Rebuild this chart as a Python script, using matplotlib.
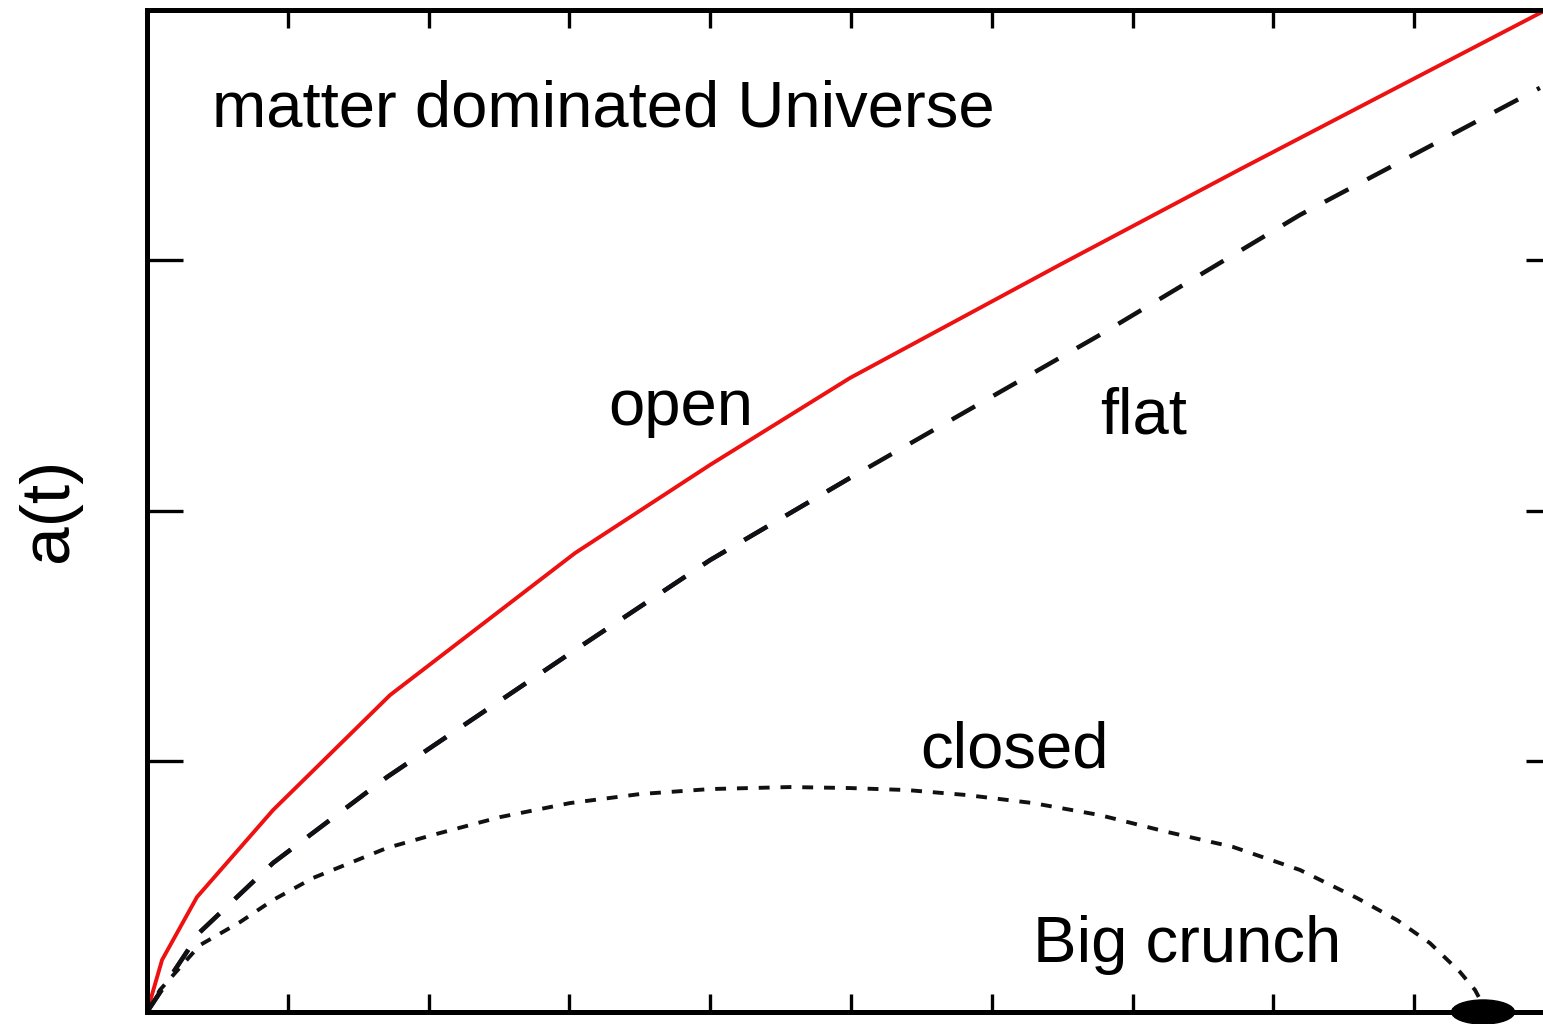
# Scale factor a(t) for a matter dominated Universe
# open / flat / closed cases

import matplotlib
matplotlib.use("Agg")
import matplotlib.pyplot as plt
from matplotlib.patches import Ellipse

plt.rcParams['font.family'] = ['Liberation Sans', 'DejaVu Sans']

# open universe (solid red)
open_t = [0.0, 0.107, 0.355, 0.895, 1.726, 3.040, 3.999, 4.993, 6.484, 7.763, 8.828, 9.915]
open_a = [0.0, 0.208, 0.459, 0.806, 1.265, 1.832, 2.184, 2.531, 2.983, 3.364, 3.676, 3.994]

# flat universe (dashed)
flat_t = [0.0, 0.376, 0.895, 1.705, 3.040, 3.999, 4.993, 6.058, 6.768, 8.189, 9.893]
flat_a = [0.0, 0.319, 0.595, 0.938, 1.445, 1.804, 2.132, 2.475, 2.703, 3.182, 3.689]

# closed universe (dotted), ends in the big crunch
closed_t = [0.0, 0.092, 0.376, 0.661, 0.895, 1.179, 1.442, 1.705, 2.031, 2.507, 3.004,
            3.501, 3.999, 4.567, 4.993, 5.398, 5.824, 6.293, 6.768, 7.244, 7.713, 8.189,
            8.594, 8.878, 9.112, 9.325, 9.432, 9.489]
closed_a = [0.0, 0.088, 0.267, 0.359, 0.447, 0.535, 0.595, 0.655, 0.707, 0.778, 0.834,
            0.870, 0.890, 0.898, 0.894, 0.886, 0.866, 0.834, 0.786, 0.719, 0.659, 0.567,
            0.455, 0.367, 0.275, 0.160, 0.088, 0.028]

crunch_t = 9.489

fig = plt.figure(figsize=(15.43, 10.24), dpi=100)
ax = fig.add_axes([0.09527, 0.01172, 0.91705, 0.97852])

ax.plot(open_t, open_a, color='#ee1111', lw=2.8, solid_joinstyle='miter')

# flat curve: navy in the lower part, black dashes on top
ax.plot(flat_t[:7], flat_a[:7], color='#151560', lw=3.2, dashes=(6.0, 4.8))
ax.plot(flat_t, flat_a, color='#111111', lw=3.2, dashes=(6.0, 4.8))

ax.plot(closed_t, closed_a, color='#111111', lw=2.8, dashes=(2.8, 2.8))

# big crunch blob on the time axis
ax.add_patch(Ellipse((crunch_t, 0.0), 0.447, 0.096, color='black', clip_on=False, zorder=5))

ax.set_xlim(0, 10.05)
ax.set_ylim(0, 4)
ax.set_xticks(range(0, 11))
ax.set_yticks(range(0, 5))
ax.set_xticklabels([])
ax.set_yticklabels([])
ax.tick_params(axis='both', direction='in', top=True, right=True, color='black')
ax.tick_params(axis='x', length=13, width=2.4)
ax.tick_params(axis='y', length=26, width=2.4)
for sp in ax.spines.values():
    sp.set_linewidth(3.6)

# labels
fs = 47
ax.text(0.462, 3.533, 'matter dominated Universe', fontsize=fs, va='baseline')
ax.text(3.274, 2.343, 'open', fontsize=fs, va='baseline')
ax.text(6.768, 2.311, 'flat', fontsize=fs, va='baseline')
ax.text(5.490, 0.978, 'closed', fontsize=fs, va='baseline')
ax.text(6.293, 0.200, 'Big crunch', fontsize=fs, va='baseline')

fig.text(49 / 1543, 1 - 510 / 1024, 'a(t)', fontsize=50, rotation=90, ha='center', va='center')

fig.savefig('out.png', dpi=100)
